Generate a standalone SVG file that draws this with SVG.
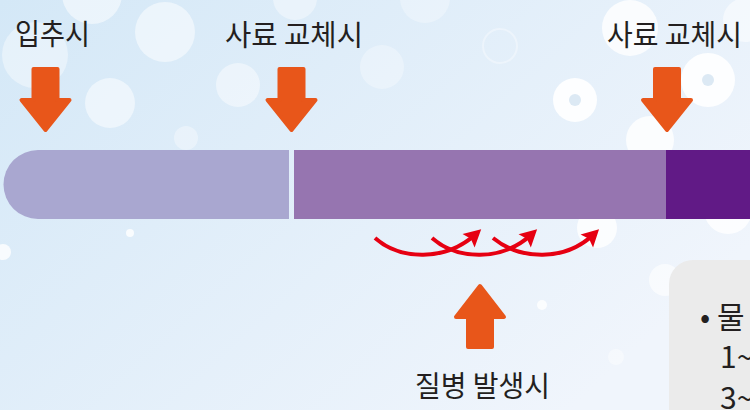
<svg xmlns="http://www.w3.org/2000/svg" width="750" height="410" viewBox="0 0 750 410">
<defs>
<linearGradient id="bg" x1="0" y1="0" x2="1" y2="0.6">
<stop offset="0" stop-color="#d4e8f7"/>
<stop offset="1" stop-color="#f0f5fc"/>
</linearGradient>
<marker id="redhead" markerUnits="userSpaceOnUse" viewBox="-18 -10 19 20" refX="-7" refY="0" markerWidth="19" markerHeight="20" orient="auto">
<path d="M0,0 L-17,-9 L-14,0 L-17,9 Z" fill="#e60012"/>
</marker>
</defs>
<style>
.lbl{font-family:"Noto Sans CJK KR","Noto Sans",sans-serif;font-size:29px;fill:#231f20}
.box{font-family:"Noto Sans CJK KR","Noto Sans",sans-serif;font-size:30px;fill:#231f20}
.bok{fill:#ffffff}
.arr{fill:#e8561a;stroke:#e8561a;stroke-width:4;stroke-linejoin:round}
.red{fill:none;stroke:#e60012;stroke-width:4;marker-end:url(#redhead)}
</style>
<rect width="750" height="410" fill="url(#bg)"/>
<g id="bokeh">
<circle class="bok" cx="92" cy="-6" r="30" opacity="0.5"/>
<circle class="bok" cx="165" cy="32" r="30" opacity="0.5"/>
<circle class="bok" cx="35" cy="55" r="33" opacity="0.4"/>
<circle class="bok" cx="110" cy="103" r="25" opacity="0.5"/>
<circle class="bok" cx="238" cy="85" r="22" opacity="0.45"/>
<circle class="bok" cx="295" cy="-2" r="22" opacity="0.4"/>
<circle class="bok" cx="382" cy="67" r="22" opacity="0.3"/>
<circle class="bok" cx="425" cy="-2" r="25" opacity="0.3"/>
<circle cx="500" cy="46" r="17" fill="none" stroke="#ffffff" stroke-width="2" opacity="0.35"/>
<circle class="bok" cx="630" cy="28" r="28" opacity="0.8"/>
<circle class="bok" cx="575" cy="100" r="22" opacity="0.9"/>
<circle cx="575" cy="100" r="6" fill="#dce9f4"/>
<circle class="bok" cx="708" cy="80" r="27" opacity="0.9"/>
<circle cx="708" cy="80" r="6" fill="#dce9f4"/>
<circle class="bok" cx="745" cy="20" r="22" opacity="0.5"/>
<circle class="bok" cx="650" cy="140" r="24" opacity="0.8"/>
<circle class="bok" cx="597" cy="228" r="20" opacity="0.8"/>
<circle class="bok" cx="728" cy="210" r="24" opacity="0.8"/>
<circle class="bok" cx="186" cy="138" r="12" opacity="0.35"/>
<circle class="bok" cx="130" cy="233" r="4" opacity="0.8"/>
<circle class="bok" cx="3" cy="252" r="8" opacity="0.8"/>
<circle class="bok" cx="542" cy="305" r="5" opacity="0.8"/>
<circle class="bok" cx="616" cy="357" r="8" opacity="0.4"/>
<circle class="bok" cx="665" cy="280" r="16" opacity="0.6"/>
</g>
<g id="bar">
<path d="M38,150 H289 V219 H38 A34.5,34.5 0 0 1 38,150 Z" fill="#a9a7d0"/>
<rect x="294" y="150" width="372" height="69" fill="#9675b0"/>
<rect x="666" y="150" width="84" height="69" fill="#611a86"/>
</g>
<g id="node-ipchu">
<text class="lbl" x="15" y="45" textLength="75" lengthAdjust="spacingAndGlyphs">입추시</text>
<path class="arr" transform="translate(45.5,69)" d="M-12,0 H12 V31 H24 L0,61 L-24,31 H-12 Z"/>
</g>
<g id="node-feed1">
<text class="lbl" x="225" y="46" textLength="138" lengthAdjust="spacingAndGlyphs">사료 교체시</text>
<path class="arr" transform="translate(291.5,69)" d="M-12,0 H12 V31 H24 L0,61 L-24,31 H-12 Z"/>
</g>
<g id="node-feed2">
<text class="lbl" x="607" y="46" textLength="135" lengthAdjust="spacingAndGlyphs">사료 교체시</text>
<path class="arr" transform="translate(667,69)" d="M-12,0 H12 V31 H24 L0,61 L-24,31 H-12 Z"/>
</g>
<g id="connectors">
<path class="red" d="M375,238 C400,260 445,262 476,234"/>
<path class="red" d="M432,238 C457,260 502,262 532,234"/>
<path class="red" d="M493,238 C520,260 565,262 594,234"/>
</g>
<g id="node-disease">
<path class="arr" transform="translate(480,286)" d="M0,0 L24,31 H12 V61 H-12 V31 H-24 Z"/>
<text class="lbl" x="415" y="397" textLength="135" lengthAdjust="spacingAndGlyphs">질병 발생시</text>
</g>
<g id="node-water">
<rect x="669" y="260" width="140" height="200" rx="24" fill="#ebebeb"/>
<text class="box" x="700" y="328">•</text>
<text class="box" x="717" y="328">물</text>
<text class="box" x="720" y="368">1~</text>
<text class="box" x="720" y="409">3~</text>
</g>
</svg>
